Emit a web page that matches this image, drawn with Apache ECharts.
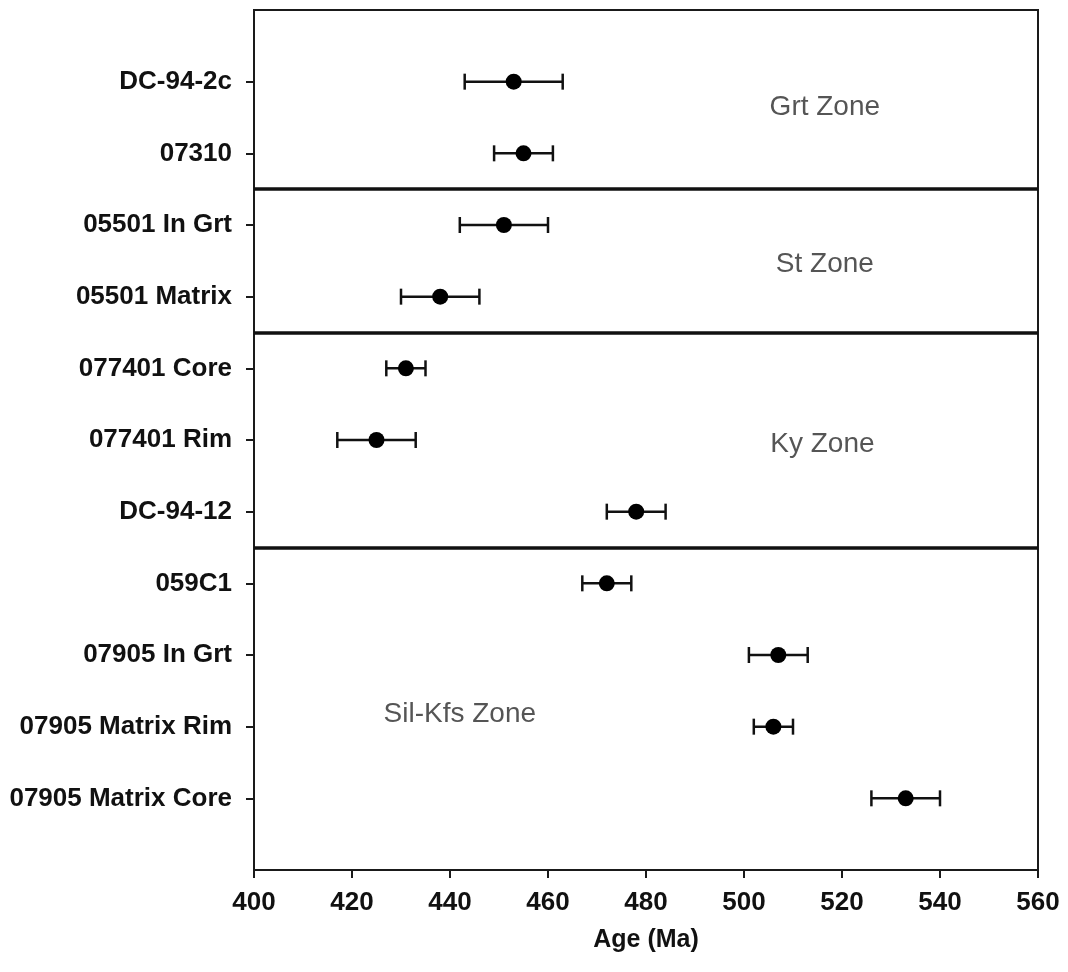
<!DOCTYPE html>
<html>
<head>
<meta charset="utf-8">
<script src="https://cdn.jsdelivr.net/npm/echarts@6/dist/echarts.min.js"></script>
<style>
  html, body { margin: 0; padding: 0; background: #fff; }
  #chart { width: 1068px; height: 972px; }
</style>
</head>
<body>
<div id="chart"></div>
<script>
// Samples, listed top to bottom
const samples = [
  'DC-94-2c', '07310',
  '05501 In Grt', '05501 Matrix',
  '077401 Core', '077401 Rim', 'DC-94-12',
  '059C1', '07905 In Grt', '07905 Matrix Rim', '07905 Matrix Core'
];
// Ages (Ma) and their uncertainties (±Ma)
const ages = [453, 455, 451, 438, 431, 425, 478, 472, 507, 506, 533];
const errors = [10, 6, 9, 8, 4, 8, 6, 5, 6, 4, 7];

// Metamorphic zones and how many samples (from the top) each holds
const zoneNames = ['Grt Zone', 'St Zone', 'Ky Zone', 'Sil-Kfs Zone'];
const zoneCounts = [2, 2, 3, 4];
// Where each zone name sits: [age, row position]
const zoneLabelAt = [[516.5, 10.64], [516.5, 8.45], [516, 5.94], [442, 2.17]];

const xTicks = [400, 420, 440, 460, 480, 500, 520, 540, 560];

const n = samples.length;
// Row position of sample i (top sample highest)
const rowOf = i => n - i;

const pointData = ages.map((a, i) => [a, rowOf(i)]);
const barData = ages.map((a, i) => [a - errors[i], a + errors[i], rowOf(i)]);

// Boundaries between zones fall halfway between neighbouring rows
const boundaries = [];
let acc = 0;
zoneCounts.slice(0, -1).forEach(c => {
  acc += c;
  boundaries.push(rowOf(acc - 1) - 0.5);
});

const labelFont = 'Liberation Sans, Arial, sans-serif';

const chart = echarts.init(document.getElementById('chart'), null, { renderer: 'canvas' });

chart.setOption({
  animation: false,
  backgroundColor: '#fff',
  grid: {
    left: 254, right: 30, top: 10, bottom: 102,
    show: true, borderColor: '#1a1a1a', borderWidth: 2, backgroundColor: 'transparent'
  },
  xAxis: {
    type: 'value',
    min: xTicks[0], max: xTicks[xTicks.length - 1], interval: 20,
    name: 'Age (Ma)',
    nameLocation: 'middle',
    nameGap: 58,
    nameTextStyle: { fontFamily: labelFont, fontWeight: 'bold', fontSize: 25, color: '#111' },
    axisLine: { show: true, lineStyle: { color: '#1a1a1a', width: 2 } },
    axisTick: { show: true, inside: false, length: 8, lineStyle: { color: '#1a1a1a', width: 2 } },
    axisLabel: { fontFamily: labelFont, fontWeight: 'bold', fontSize: 26, color: '#111', margin: 20 },
    splitLine: { show: false }
  },
  yAxis: {
    type: 'value',
    min: 0, max: n + 1, interval: 1,
    axisLine: { show: true, lineStyle: { color: '#1a1a1a', width: 2 } },
    axisTick: {
      show: true, length: 8, lineStyle: { color: '#1a1a1a', width: 2 },
      customValues: samples.map((s, i) => rowOf(i))
    },
    axisLabel: {
      fontFamily: labelFont, fontWeight: 'bold', fontSize: 26, color: '#111', margin: 22,
      customValues: samples.map((s, i) => rowOf(i)),
      formatter: v => samples[n - v] || ''
    },
    splitLine: { show: false }
  },
  series: [
    {
      // Horizontal error bars with end caps
      type: 'custom',
      data: barData,
      z: 3,
      renderItem: (params, api) => {
        const lo = api.coord([api.value(0), api.value(2)]);
        const hi = api.coord([api.value(1), api.value(2)]);
        const cap = 8;
        const style = { stroke: '#111', lineWidth: 2.5 };
        return {
          type: 'group',
          children: [
            { type: 'line', shape: { x1: lo[0], y1: lo[1], x2: hi[0], y2: hi[1] }, style },
            { type: 'line', shape: { x1: lo[0], y1: lo[1] - cap, x2: lo[0], y2: lo[1] + cap }, style },
            { type: 'line', shape: { x1: hi[0], y1: hi[1] - cap, x2: hi[0], y2: hi[1] + cap }, style }
          ]
        };
      }
    },
    {
      type: 'scatter',
      data: pointData,
      symbol: 'circle',
      symbolSize: 16,
      z: 4,
      itemStyle: { color: '#000', opacity: 1 },
      emphasis: { disabled: true },
      markLine: {
        silent: true,
        symbol: 'none',
        label: { show: false },
        lineStyle: { color: '#111', width: 3.5, type: 'solid' },
        data: boundaries.map(b => ({ yAxis: b }))
      }
    },
    {
      // Zone names
      type: 'scatter',
      data: zoneLabelAt.map((p, i) => ({ value: p, name: zoneNames[i] })),
      symbolSize: 0,
      silent: true,
      label: {
        show: true,
        position: 'inside',
        formatter: p => p.name,
        fontFamily: labelFont,
        fontSize: 28,
        color: '#2a2a2a'
      }
    }
  ]
});
</script>
</body>
</html>
